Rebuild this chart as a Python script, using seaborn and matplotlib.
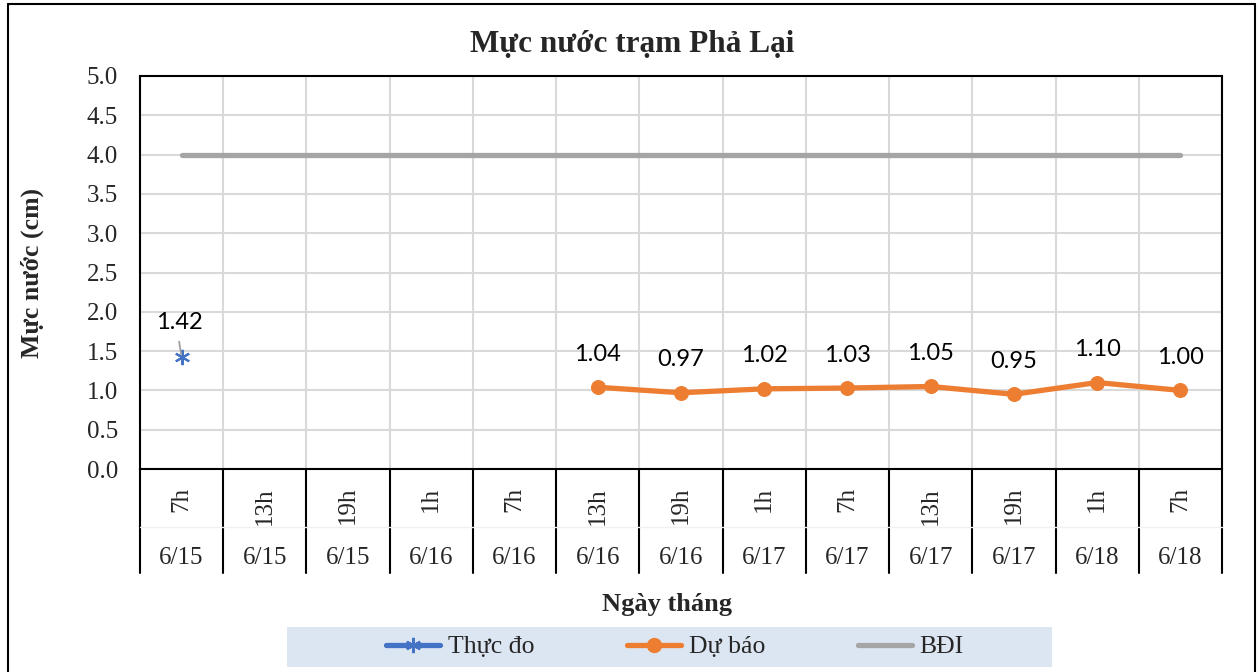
import matplotlib
matplotlib.use("Agg")
import matplotlib.pyplot as plt
import seaborn as sns
import numpy as np
import pandas as pd
from matplotlib.lines import Line2D
from matplotlib.patches import Rectangle

# ---- data ----
hours = ["7h", "13h", "19h", "1h", "7h", "13h", "19h", "1h", "7h", "13h", "19h", "1h", "7h"]
dates = ["6/15", "6/15", "6/15", "6/16", "6/16", "6/16", "6/16", "6/17", "6/17", "6/17", "6/17", "6/18", "6/18"]
thuc_do = [1.42, None, None, None, None, None, None, None, None, None, None, None, None]
du_bao = [None, None, None, None, None, 1.04, 0.97, 1.02, 1.03, 1.05, 0.95, 1.10, 1.00]
bdi = [4.0] * 13
y_ticks = [0.0, 0.5, 1.0, 1.5, 2.0, 2.5, 3.0, 3.5, 4.0, 4.5, 5.0]

title = "Mực nước trạm Phả Lại"
ylabel = "Mực nước (cm)"
xlabel = "Ngày tháng"
series_names = ["Thực đo", "Dự báo", "BĐI"]

BLUE, ORANGE, GRAY = "#4472C4", "#ED7D31", "#A5A5A5"

sns.set_theme(style="white")
plt.rcParams["font.family"] = ["Liberation Serif", "DejaVu Serif"]

W, H = 1257, 672
fig = plt.figure(figsize=(W / 100, H / 100), dpi=100)
ax = fig.add_axes([140 / W, 1 - 469 / H, (1222 - 140) / W, (469 - 76) / H])

x = np.arange(len(hours))
df = pd.DataFrame({"x": x, "thuc_do": pd.array(thuc_do, dtype="float"),
                   "du_bao": pd.array(du_bao, dtype="float"), "bdi": bdi})

# grid
for yv in y_ticks:
    ax.axhline(yv, color="#d9d9d9", lw=1.5, zorder=0)
for i in range(len(hours) + 1):
    ax.axvline(i - 0.5, color="#d9d9d9", lw=1.5, zorder=0)

sns.lineplot(data=df, x="x", y="bdi", ax=ax, color=GRAY, lw=3.8,
             solid_capstyle="round", zorder=2)
sns.lineplot(data=df.dropna(subset=["du_bao"]), x="x", y="du_bao", ax=ax,
             color=ORANGE, lw=3.8, marker="o", markersize=10,
             markeredgecolor=ORANGE, zorder=3)
sns.lineplot(data=df.dropna(subset=["thuc_do"]), x="x", y="thuc_do", ax=ax,
             color=BLUE, lw=3.8, marker=(6, 2, 0), markersize=11,
             markeredgewidth=1.5, markeredgecolor=BLUE, zorder=3)

ax.set_xlim(-0.5, len(hours) - 0.5)
ax.set_ylim(0, 5)
ax.set_yticks(y_ticks)
ax.set_yticklabels([f"{v:.1f}" for v in y_ticks], fontsize=18)
ax.tick_params(axis="y", length=0, pad=16)
ax.set_xticks([])
ax.set_xlabel("")
ax.set_ylabel("")
for s in ax.spines.values():
    s.set_visible(True)
    s.set_color("black")
    s.set_linewidth(1.5)

# data labels
lab_font = dict(fontsize=17, family=["Lato", "DejaVu Sans"], color="black")
for xi, v in zip(x, du_bao):
    if v is not None:
        ax.annotate(f"{v:.2f}", (xi, v), xytext=(0, 33), textcoords="offset pixels",
                    ha="center", va="center", **lab_font)
for xi, v in zip(x, thuc_do):
    if v is not None:
        ax.annotate(f"{v:.2f}", (xi, v), xytext=(-2, 35), textcoords="offset pixels",
                    ha="center", va="center", **lab_font)
        ax.annotate("", (xi, v), xytext=(xi - 0.03, v + 0.2), textcoords="data",
                    arrowprops=dict(arrowstyle="-", color="#a0a0a0", lw=1.3,
                                    shrinkA=0, shrinkB=2))

# category table below axis
trans = ax.get_xaxis_transform()
ax_h = 469 - 76
def yfrac(py):
    return -(py - 469) / ax_h
for i in range(len(hours) + 1):
    ax.plot([i - 0.5, i - 0.5], [0, yfrac(573)], transform=trans, color="black",
            lw=1.5, clip_on=False)
ax.plot([-0.5, len(hours) - 0.5], [yfrac(527), yfrac(527)], transform=trans,
        color="#f0f0f0", lw=1, clip_on=False)
for xi, hh, dd in zip(x, hours, dates):
    ax.text(xi, yfrac(487), hh, transform=trans, rotation=90, ha="center", va="top",
            fontsize=18)
    ax.text(xi, yfrac(558), dd, transform=trans, ha="center", va="center", fontsize=18)

# titles
fig.text(632 / W, 1 - 44 / H, title, ha="center", va="center", fontsize=22.5,
         fontweight="bold")
fig.text(32 / W, 1 - 273 / H, ylabel, ha="center", va="center", rotation=90,
         fontsize=18.5, fontweight="bold")
fig.text(667 / W, 1 - 604 / H, xlabel, ha="center", va="center", fontsize=19,
         fontweight="bold")

# legend
fig.add_artist(Rectangle((287 / W, 1 - 667 / H), (1052 - 287) / W, 40 / H,
                         transform=fig.transFigure, facecolor="#DCE6F2",
                         edgecolor="none", zorder=0))
handles = [
    Line2D([], [], color=BLUE, lw=3.8, marker=(6, 2, 0), markersize=11,
           markeredgewidth=1.5, solid_capstyle="round"),
    Line2D([], [], color=ORANGE, lw=3.8, marker="o", markersize=10,
           solid_capstyle="round"),
    Line2D([], [], color=GRAY, lw=3.8, solid_capstyle="round"),
]
fig.legend(handles, series_names, loc="center", bbox_to_anchor=(675 / W, 1 - 647 / H),
           ncol=3, frameon=False, fontsize=18.5, handlelength=2.1, handletextpad=0.3,
           columnspacing=3.6, borderpad=0)

# outer border
for xs, ys in [([8, 8], [4, 680]), ([8, 1255], [4, 4]), ([1255, 1255], [4, 680])]:
    fig.add_artist(Line2D([v / W for v in xs], [1 - v / H for v in ys],
                          transform=fig.transFigure, color="black", lw=1.5))

fig.savefig("out.png", dpi=100)
